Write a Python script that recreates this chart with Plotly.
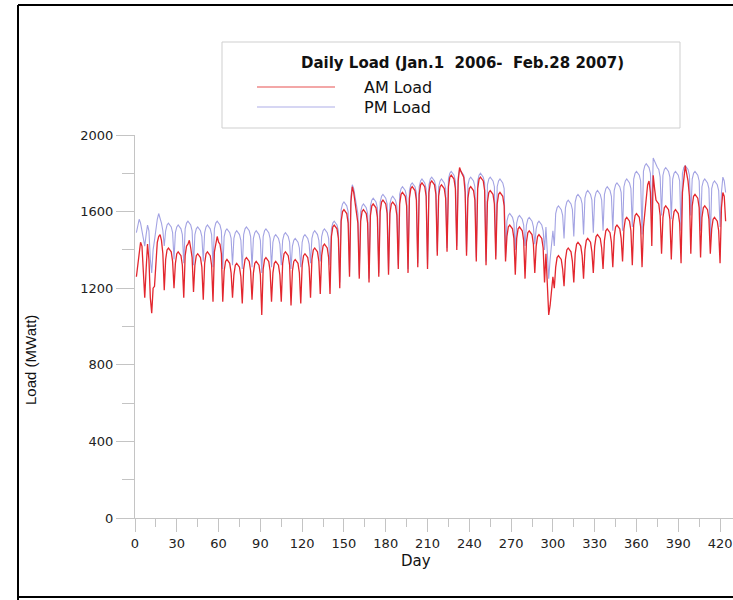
import plotly.graph_objects as go

# Daily load, Jan 1 2006 - Feb 28 2007 (MW); one row = one week
am_load = [
    1260, 1330, 1400, 1440, 1420, 1300, 1150,
    1300, 1430, 1350, 1150, 1070, 1200, 1210,
    1350, 1440, 1470, 1480, 1450, 1380, 1190,
    1350, 1400, 1410, 1400, 1390, 1340, 1200,
    1330, 1380, 1390, 1380, 1370, 1320, 1150,
    1370, 1420, 1430, 1450, 1410, 1360, 1180,
    1320, 1370, 1380, 1370, 1360, 1310, 1140,
    1330, 1380, 1390, 1380, 1370, 1320, 1130,
    1390, 1440, 1470, 1440, 1430, 1380, 1130,
    1290, 1340, 1350, 1340, 1330, 1280, 1150,
    1270, 1320, 1330, 1320, 1310, 1260, 1120,
    1300, 1350, 1360, 1350, 1340, 1290, 1140,
    1280, 1330, 1340, 1330, 1320, 1270, 1060,
    1300, 1350, 1360, 1350, 1340, 1290, 1130,
    1280, 1330, 1340, 1330, 1320, 1270, 1130,
    1330, 1380, 1390, 1380, 1370, 1320, 1110,
    1290, 1340, 1350, 1340, 1330, 1280, 1120,
    1320, 1370, 1380, 1370, 1360, 1310, 1150,
    1350, 1400, 1410, 1400, 1390, 1340, 1170,
    1370, 1420, 1430, 1420, 1410, 1360, 1170,
    1470, 1520, 1530, 1520, 1510, 1460, 1200,
    1550, 1600, 1610, 1600, 1590, 1540, 1260,
    1650, 1730, 1700, 1640, 1600, 1540, 1250,
    1550, 1600, 1610, 1600, 1590, 1540, 1230,
    1580, 1630, 1640, 1630, 1620, 1570, 1260,
    1600, 1650, 1660, 1650, 1640, 1590, 1270,
    1590, 1640, 1650, 1640, 1630, 1580, 1300,
    1640, 1690, 1700, 1690, 1680, 1630, 1280,
    1670, 1720, 1730, 1720, 1710, 1660, 1310,
    1690, 1740, 1750, 1740, 1730, 1680, 1300,
    1700, 1750, 1760, 1750, 1740, 1690, 1370,
    1680, 1730, 1740, 1730, 1720, 1670, 1390,
    1730, 1780, 1790, 1780, 1770, 1720, 1400,
    1760, 1830, 1810, 1790, 1780, 1700, 1370,
    1670, 1720, 1730, 1720, 1710, 1660, 1340,
    1720, 1770, 1780, 1770, 1760, 1710, 1320,
    1650, 1700, 1710, 1700, 1690, 1640, 1350,
    1640, 1690, 1700, 1690, 1680, 1630, 1340,
    1470, 1520, 1530, 1520, 1510, 1460, 1270,
    1460, 1510, 1520, 1510, 1500, 1450, 1250,
    1440, 1490, 1500, 1490, 1480, 1430, 1280,
    1420, 1470, 1480, 1470, 1460, 1410, 1230,
    1380, 1200, 1060, 1110, 1190, 1260, 1200,
    1310, 1360, 1370, 1360, 1350, 1300, 1210,
    1350, 1400, 1410, 1400, 1390, 1340, 1230,
    1380, 1430, 1440, 1430, 1420, 1370, 1250,
    1400, 1450, 1460, 1450, 1440, 1390, 1280,
    1420, 1470, 1480, 1470, 1460, 1410, 1300,
    1450, 1500, 1510, 1500, 1490, 1440, 1310,
    1470, 1520, 1530, 1520, 1510, 1460, 1340,
    1510, 1560, 1570, 1560, 1550, 1500, 1320,
    1530, 1580, 1590, 1580, 1570, 1520, 1310,
    1520, 1600, 1680, 1740, 1760, 1700, 1420,
    1790, 1720, 1660, 1650, 1640, 1580, 1380,
    1570, 1620, 1630, 1620, 1610, 1560, 1350,
    1550, 1600, 1610, 1600, 1590, 1540, 1330,
    1700, 1780, 1840, 1800, 1760, 1680, 1380,
    1630, 1680, 1690, 1680, 1670, 1620, 1360,
    1570, 1620, 1630, 1620, 1610, 1560, 1380,
    1510, 1560, 1570, 1560, 1550, 1500, 1330,
    1620, 1700, 1680, 1550,
]

pm_load = [
    1490, 1530, 1560, 1540, 1500, 1460, 1420,
    1480, 1530, 1500, 1350, 1280, 1400, 1450,
    1520, 1560, 1590, 1570, 1540, 1500, 1420,
    1500, 1530, 1540, 1530, 1520, 1490, 1350,
    1490, 1520, 1530, 1520, 1510, 1480, 1330,
    1510, 1540, 1550, 1540, 1530, 1500, 1320,
    1480, 1510, 1520, 1510, 1500, 1470, 1340,
    1490, 1520, 1530, 1520, 1510, 1480, 1310,
    1510, 1540, 1550, 1540, 1530, 1500, 1300,
    1470, 1500, 1510, 1500, 1490, 1460, 1320,
    1460, 1490, 1500, 1490, 1480, 1450, 1300,
    1480, 1510, 1520, 1510, 1500, 1470, 1310,
    1460, 1490, 1500, 1490, 1480, 1450, 1280,
    1470, 1500, 1510, 1500, 1490, 1460, 1310,
    1440, 1470, 1480, 1470, 1460, 1430, 1320,
    1450, 1480, 1490, 1480, 1470, 1440, 1300,
    1420, 1450, 1460, 1450, 1440, 1410, 1310,
    1440, 1470, 1480, 1470, 1460, 1430, 1330,
    1460, 1490, 1500, 1490, 1480, 1450, 1340,
    1470, 1500, 1510, 1500, 1490, 1460, 1320,
    1510, 1540, 1550, 1540, 1530, 1500, 1230,
    1610, 1640, 1650, 1640, 1630, 1600, 1280,
    1680, 1740, 1720, 1670, 1640, 1590, 1270,
    1600, 1630, 1640, 1630, 1620, 1590, 1250,
    1630, 1660, 1670, 1660, 1650, 1620, 1280,
    1650, 1680, 1690, 1680, 1670, 1640, 1290,
    1640, 1670, 1680, 1670, 1660, 1630, 1320,
    1690, 1720, 1730, 1720, 1710, 1680, 1300,
    1710, 1740, 1750, 1740, 1730, 1700, 1330,
    1730, 1760, 1770, 1760, 1750, 1720, 1320,
    1740, 1770, 1780, 1770, 1760, 1730, 1390,
    1730, 1760, 1770, 1760, 1750, 1720, 1410,
    1770, 1800, 1810, 1800, 1790, 1760, 1420,
    1780, 1820, 1810, 1800, 1790, 1740, 1390,
    1740, 1770, 1780, 1770, 1760, 1730, 1360,
    1760, 1790, 1800, 1790, 1780, 1750, 1340,
    1740, 1770, 1780, 1770, 1760, 1730, 1370,
    1730, 1760, 1770, 1760, 1750, 1720, 1360,
    1550, 1580, 1590, 1580, 1570, 1540, 1400,
    1540, 1570, 1580, 1570, 1560, 1530, 1420,
    1530, 1560, 1570, 1560, 1550, 1520, 1430,
    1510, 1540, 1550, 1540, 1530, 1500, 1400,
    1520, 1400, 1250, 1350, 1450, 1500, 1420,
    1590, 1620, 1630, 1620, 1610, 1580, 1460,
    1620, 1650, 1660, 1650, 1640, 1610, 1470,
    1650, 1680, 1690, 1680, 1670, 1640, 1480,
    1670, 1700, 1710, 1700, 1690, 1660, 1490,
    1670, 1700, 1710, 1700, 1690, 1660, 1500,
    1690, 1720, 1730, 1720, 1710, 1680, 1500,
    1710, 1740, 1750, 1740, 1730, 1700, 1500,
    1730, 1760, 1770, 1760, 1750, 1720, 1520,
    1770, 1800, 1810, 1800, 1790, 1760, 1480,
    1810, 1840, 1850, 1840, 1830, 1800, 1550,
    1880, 1860, 1840, 1830, 1820, 1780, 1580,
    1790, 1820, 1830, 1820, 1810, 1780, 1560,
    1770, 1800, 1810, 1800, 1790, 1760, 1500,
    1800, 1830, 1840, 1830, 1820, 1790, 1580,
    1770, 1800, 1810, 1800, 1790, 1760, 1500,
    1730, 1760, 1770, 1760, 1750, 1720, 1450,
    1720, 1750, 1760, 1750, 1740, 1710, 1520,
    1700, 1780, 1760, 1700,
]

days = list(range(1, len(am_load) + 1))

x_ticks = [0, 30, 60, 90, 120, 150, 180, 210, 240, 270, 300, 330, 360, 390, 420]
y_ticks = [0, 400, 800, 1200, 1600, 2000]

legend_title = "Daily Load (Jan.1\u00a0 2006-\u00a0 Feb.28 2007)"
am_name = "AM Load"
pm_name = "PM Load"

AM_COLOR = "#e3262e"
PM_COLOR = "#a3a3e3"
AXIS_GREY = "#c4c4c4"
FONT = "DejaVu Sans"

W, H = 733, 600
L, R, T, B = 135, 0, 135, 82
PW, PH = W - L - R, H - T - B


def px(x):
    return (x - L) / PW


def py(y):
    return (H - B - y) / PH


fig = go.Figure()
fig.add_trace(go.Scatter(x=days, y=pm_load, mode="lines", name=pm_name,
                         line=dict(color=PM_COLOR, width=1.1), showlegend=False))
fig.add_trace(go.Scatter(x=days, y=am_load, mode="lines", name=am_name,
                         line=dict(color=AM_COLOR, width=1.3), showlegend=False))

# legend panel
shapes = [
    dict(type="rect", xref="paper", yref="paper", x0=px(222), x1=px(680), y0=py(128), y1=py(42),
         line=dict(color="#cfcfcf", width=1), fillcolor="white", layer="above"),
    dict(type="line", xref="paper", yref="paper", x0=px(257), x1=px(335), y0=py(87), y1=py(87),
         line=dict(color="#ef8a8a", width=1.5)),
    dict(type="line", xref="paper", yref="paper", x0=px(257), x1=px(335), y0=py(107), y1=py(107),
         line=dict(color="#c9c9ef", width=1.5)),
    # outer frame
    dict(type="line", xref="paper", yref="paper", x0=px(18), x1=px(18), y0=py(600), y1=py(5),
         line=dict(color="black", width=2)),
    dict(type="line", xref="paper", yref="paper", x0=px(18), x1=px(733), y0=py(5), y1=py(5),
         line=dict(color="black", width=2)),
    dict(type="line", xref="paper", yref="paper", x0=px(18), x1=px(733), y0=py(597), y1=py(597),
         line=dict(color="black", width=2)),
]

annotations = [
    dict(text="<b>" + legend_title + "</b>", xref="paper", yref="paper", x=px(462), y=py(63),
         xanchor="center", yanchor="middle", showarrow=False,
         font=dict(family=FONT, size=15, color="#111")),
    dict(text=am_name, xref="paper", yref="paper", x=px(362), y=py(87),
         xanchor="left", yanchor="middle", showarrow=False,
         font=dict(family=FONT, size=16, color="#111")),
    dict(text=pm_name, xref="paper", yref="paper", x=px(362), y=py(107),
         xanchor="left", yanchor="middle", showarrow=False,
         font=dict(family=FONT, size=16, color="#111")),
    dict(text="Load (MWatt)", xref="paper", yref="paper", x=px(30), y=py(360),
         xanchor="center", yanchor="middle", showarrow=False, textangle=-90,
         font=dict(family="Liberation Sans Narrow, Arial Narrow, Liberation Sans", size=15, color="#111")),
    dict(text="Day", xref="paper", yref="paper", x=px(416), y=py(561),
         xanchor="center", yanchor="middle", showarrow=False,
         font=dict(family=FONT, size=15, color="#111")),
]

fig.update_layout(
    width=W, height=H,
    margin=dict(l=L, r=R, t=T, b=B, pad=0),
    paper_bgcolor="white", plot_bgcolor="white",
    shapes=shapes, annotations=annotations,
    showlegend=False,
    xaxis=dict(range=[0, PW / 1.393], tickmode="array", tickvals=x_ticks,
               ticktext=[str(v) for v in x_ticks],
               showgrid=False, zeroline=False, showline=True, linecolor=AXIS_GREY, linewidth=1,
               ticks="outside", ticklen=13, tickcolor=AXIS_GREY, tickwidth=1,
               minor=dict(dtick=15, tick0=15, ticks="outside", ticklen=8, tickcolor=AXIS_GREY, showgrid=False),
               tickfont=dict(family=FONT, size=13, color="#222")),
    yaxis=dict(range=[0, 2000], tickmode="array", tickvals=y_ticks,
               ticktext=[str(v) for v in y_ticks],
               showgrid=False, zeroline=False, showline=True, linecolor=AXIS_GREY, linewidth=1,
               ticks="outside", ticklen=18, tickcolor=AXIS_GREY, tickwidth=1,
               minor=dict(dtick=200, tick0=0, ticks="outside", ticklen=12, tickcolor=AXIS_GREY, showgrid=False),
               tickfont=dict(family=FONT, size=13, color="#222")),
)

fig.write_html("out.html", config={"displayModeBar": False},
               post_script="document.body.style.margin='0px';document.body.style.overflow='hidden';")
